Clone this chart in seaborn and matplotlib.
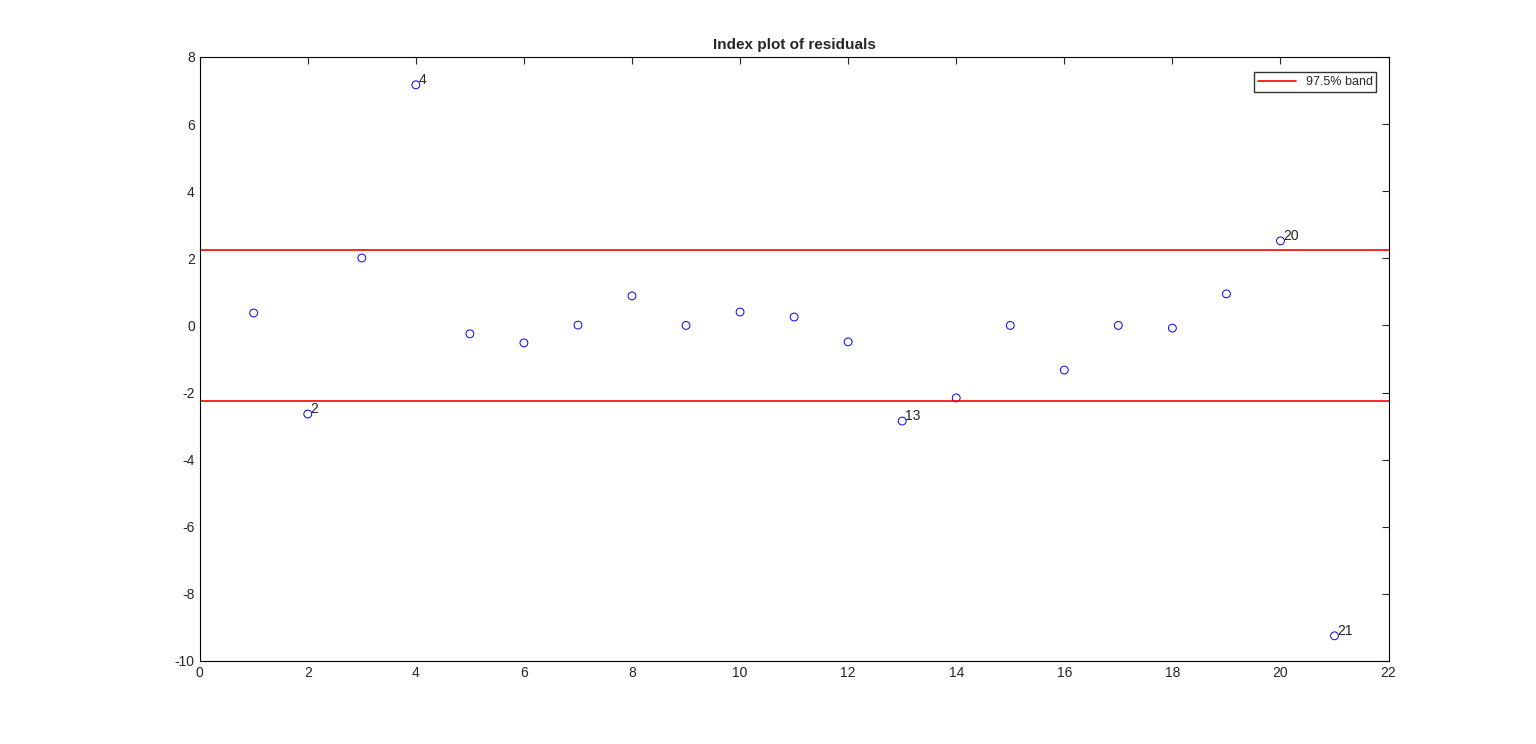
import matplotlib
matplotlib.use("Agg")
import matplotlib.pyplot as plt
import seaborn as sns
import pandas as pd

idx = list(range(1, 22))
residuals = [0.37, -2.64, 2.01, 7.17, -0.25, -0.52, 0.01, 0.88, 0.0, 0.40, 0.25,
             -0.49, -2.85, -2.16, 0.0, -1.33, 0.0, -0.08, 0.94, 2.52, -9.25]
band = 2.24
labeled = [2, 4, 13, 20, 21]

sns.set_style("white")
plt.rcParams['font.family'] = ['Liberation Sans', 'DejaVu Sans']
plt.rcParams['axes.unicode_minus'] = False
fig = plt.figure(figsize=(15.36, 7.44), dpi=100)
ax = fig.add_axes([0.130, 0.1116, 0.774, 0.8118])
df = pd.DataFrame({"i": idx, "r": residuals})
sns.scatterplot(data=df, x="i", y="r", ax=ax, marker="o", facecolors="none",
                edgecolor="blue", linewidth=0.7, s=32)
ax.axhline(band, color="red", lw=1.2, label="97.5% band")
ax.axhline(-band, color="red", lw=1.2)
for i in labeled:
    ax.text(i + 0.05, residuals[i - 1] + 0.02, str(i), fontsize=10, color="#222222")
ax.set_xlim(0, 22)
ax.set_ylim(-10, 8)
ax.set_xticks(range(0, 23, 2))
ax.set_yticks(range(-10, 9, 2))
ax.set_xlabel("")
ax.set_ylabel("")
ax.tick_params(direction="in", top=True, right=True, length=5, labelsize=10)
for s in ax.spines.values():
    s.set_color("black")
    s.set_linewidth(0.8)
ax.set_title("Index plot of residuals", fontsize=11, fontweight="bold")
ax.legend(loc="upper right", fontsize=9, frameon=True, fancybox=False,
          edgecolor="black", borderpad=0.3, handlelength=3,
          bbox_to_anchor=(0.995, 0.985))
fig.savefig("out.png", dpi=100)
